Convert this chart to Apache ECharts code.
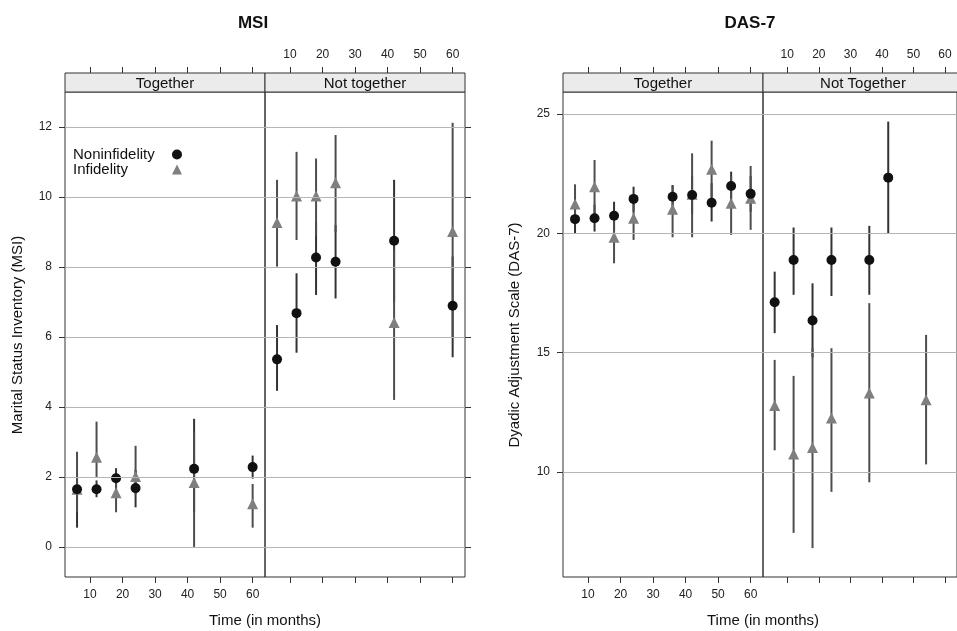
<!DOCTYPE html>
<html>
<head>
<meta charset="utf-8">
<script src="https://cdn.jsdelivr.net/npm/echarts@6/dist/echarts.min.js"></script>
<style>
  html, body { margin: 0; padding: 0; background: #fff; }
  #main { width: 957px; height: 631px; }
</style>
</head>
<body>
<div id="main"></div>
<script>
// Tick values
const monthTicks = [10, 20, 30, 40, 50, 60];
const msiTicks = [0, 2, 4, 6, 8, 10, 12];
const dasTicks = [10, 15, 20, 25];

// MSI - together
const msiTogMonths = [6, 12, 18, 24, 42, 60];
const msiTogNon = [1.65, 1.65, 1.96, 1.68, 2.23, 2.28];
const msiTogNonLo = [0.55, 1.42, 1.6, 1.13, 1.0, 1.95];
const msiTogNonHi = [2.1, 1.9, 2.25, 2.2, 3.66, 2.61];
const msiTogInf = [1.65, 2.56, 1.55, 2.01, 1.84, 1.23];
const msiTogInfLo = [1.0, 2.0, 0.99, 1.5, 0.0, 0.55];
const msiTogInfHi = [2.72, 3.58, 1.9, 2.89, 3.3, 1.8];

// MSI - not together
const msiSepMonths = [6, 12, 18, 24, 42, 60];
const msiSepNon = [5.36, 6.68, 8.27, 8.15, 8.75, 6.89];
const msiSepNonLo = [4.46, 5.55, 7.2, 7.1, 7.0, 5.42];
const msiSepNonHi = [6.34, 7.82, 9.3, 9.2, 10.49, 8.3];
const msiSepInf = [9.27, 10.03, 10.03, 10.41, 6.41, 9.01];
const msiSepInfLo = [8.01, 8.77, 8.9, 9.0, 4.2, 6.0];
const msiSepInfHi = [10.49, 11.29, 11.1, 11.77, 8.5, 12.12];

// DAS-7 - together
const dasTogMonths = [6, 12, 18, 24, 36, 42, 48, 54, 60];
const dasTogNon = [20.59, 20.63, 20.73, 21.44, 21.53, 21.6, 21.28, 21.98, 21.65];
const dasTogNonLo = [20.0, 20.07, 20.1, 20.9, 21.0, 20.8, 20.49, 21.4, 20.9];
const dasTogNonHi = [21.2, 21.2, 21.32, 21.95, 22.02, 22.4, 22.1, 22.58, 22.4];
const dasTogInf = [21.23, 21.95, 19.83, 20.63, 21.0, 21.63, 22.68, 21.26, 21.47];
const dasTogInfLo = [20.4, 20.8, 18.74, 19.72, 19.83, 19.83, 21.5, 19.93, 20.14];
const dasTogInfHi = [22.05, 23.07, 20.9, 21.5, 22.0, 23.35, 23.88, 22.4, 22.82];

// DAS-7 - not together
const dasSepNonMonths = [6, 12, 18, 24, 36, 42];
const dasSepNon = [17.11, 18.88, 16.34, 18.88, 18.88, 22.33];
const dasSepNonLo = [15.81, 17.42, 14.8, 17.37, 17.42, 20.0];
const dasSepNonHi = [18.39, 20.24, 17.9, 20.24, 20.31, 24.68];
const dasSepInfMonths = [6, 12, 18, 24, 36, 54];
const dasSepInf = [12.78, 10.75, 11.02, 12.25, 13.3, 13.02];
const dasSepInfLo = [10.9, 7.44, 6.8, 9.16, 9.56, 10.31];
const dasSepInfHi = [14.69, 14.02, 15.2, 15.18, 17.07, 15.74];

const chart = echarts.init(document.getElementById('main'));

const FONT = '"Liberation Sans", Arial, sans-serif';
const panelTop = 92, panelHeight = 485, panelWidth = 200, stripH = 19;
const panelLefts = [65, 265, 563, 763];
const stripLabels = ['Together', 'Not together', 'Together', 'Not Together'];
const xRange = [2.3, 63.8];
const msiRange = [-0.86, 13.0];
const dasRange = [5.59, 25.92];

const nonColor = '#111';
const infColor = '#7f7f7f';

const grids = panelLefts.map(left => ({
    left: left, top: panelTop, width: panelWidth, height: panelHeight,
    show: true, borderColor: '#333', borderWidth: 1, backgroundColor: 'transparent'
}));

// two x axes per panel: bottom and top (top shifted above the strip)
const xAxes = [];
panelLefts.forEach((left, g) => {
    const together = g % 2 === 0;
    ['bottom', 'top'].forEach(pos => {
        const showLabel = (pos === 'bottom') === together;
        xAxes.push({
            type: 'value', gridIndex: g, position: pos,
            offset: pos === 'top' ? stripH : 0,
            min: xRange[0], max: xRange[1],
            axisLine: { show: false, onZero: false },
            splitLine: { show: false },
            axisTick: { show: true, length: 6, customValues: monthTicks, lineStyle: { color: '#333' } },
            axisLabel: {
                show: showLabel, customValues: monthTicks, margin: 12,
                fontSize: 12, fontFamily: FONT, color: '#222'
            }
        });
    });
});

const yAxes = panelLefts.map((left, g) => {
    const together = g % 2 === 0;
    const range = g < 2 ? msiRange : dasRange;
    const ticks = g < 2 ? msiTicks : dasTicks;
    return {
        type: 'value', gridIndex: g, position: together ? 'left' : 'right',
        min: range[0], max: range[1],
        axisLine: { show: false, onZero: false },
        splitLine: { show: false },
        axisTick: { show: true, length: 6, customValues: ticks, lineStyle: { color: '#333' } },
        axisLabel: {
            show: together, customValues: ticks, margin: 13,
            fontSize: 12, fontFamily: FONT, color: '#222'
        }
    };
});

function barItem(params, api) {
    const lo = api.coord([api.value(0), api.value(1)]);
    const hi = api.coord([api.value(0), api.value(2)]);
    return {
        type: 'line',
        shape: { x1: lo[0], y1: lo[1], x2: hi[0], y2: hi[1] },
        style: { stroke: api.visual('color'), lineWidth: 2 }
    };
}

function groupSeries(g, name, months, vals, lo, hi) {
    const isNon = name === 'Noninfidelity';
    return [
        {
            type: 'custom', name: name + ' CI', xAxisIndex: 2 * g, yAxisIndex: g,
            renderItem: barItem, z: 2, silent: true,
            itemStyle: { color: isNon ? '#333' : '#4d4d4d' },
            data: months.map((m, i) => [m, lo[i], hi[i]])
        },
        {
            type: 'scatter', name: name, xAxisIndex: 2 * g, yAxisIndex: g,
            symbol: isNon ? 'circle' : 'triangle',
            symbolSize: isNon ? 10 : 11,
            z: isNon ? 4 : 3,
            itemStyle: { color: isNon ? nonColor : infColor, opacity: 1 },
            data: months.map((m, i) => [m, vals[i]])
        }
    ];
}

function gridLines(g, ticks) {
    return {
        type: 'line', xAxisIndex: 2 * g, yAxisIndex: g, data: [], z: 1, silent: true,
        markLine: {
            silent: true, symbol: 'none', animation: false,
            label: { show: false },
            lineStyle: { color: '#b5b5b5', width: 1, type: 'solid' },
            emphasis: { disabled: true },
            data: ticks.map(v => ({ yAxis: v }))
        }
    };
}

const series = [
    gridLines(0, msiTicks), gridLines(1, msiTicks), gridLines(2, dasTicks), gridLines(3, dasTicks),
    ...groupSeries(0, 'Noninfidelity', msiTogMonths, msiTogNon, msiTogNonLo, msiTogNonHi),
    ...groupSeries(0, 'Infidelity', msiTogMonths, msiTogInf, msiTogInfLo, msiTogInfHi),
    ...groupSeries(1, 'Noninfidelity', msiSepMonths, msiSepNon, msiSepNonLo, msiSepNonHi),
    ...groupSeries(1, 'Infidelity', msiSepMonths, msiSepInf, msiSepInfLo, msiSepInfHi),
    ...groupSeries(2, 'Noninfidelity', dasTogMonths, dasTogNon, dasTogNonLo, dasTogNonHi),
    ...groupSeries(2, 'Infidelity', dasTogMonths, dasTogInf, dasTogInfLo, dasTogInfHi),
    ...groupSeries(3, 'Noninfidelity', dasSepNonMonths, dasSepNon, dasSepNonLo, dasSepNonHi),
    ...groupSeries(3, 'Infidelity', dasSepInfMonths, dasSepInf, dasSepInfLo, dasSepInfHi)
];

// strips, titles and axis names
const graphics = [];
panelLefts.forEach((left, g) => {
    graphics.push({
        type: 'rect', silent: true, z: 5,
        shape: { x: left, y: panelTop - stripH, width: panelWidth, height: stripH },
        style: { fill: '#ebebeb', stroke: '#333', lineWidth: 1 }
    });
    graphics.push({
        type: 'text', silent: true, z: 6,
        x: left + panelWidth / 2, y: panelTop - stripH / 2 + 1,
        style: { text: stripLabels[g], font: '15px ' + FONT, fill: '#111', align: 'center', verticalAlign: 'middle' }
    });
});
const texts = [
    { text: 'MSI', x: 253, y: 23, font: 'bold 17px ' + FONT },
    { text: 'DAS-7', x: 750, y: 23, font: 'bold 17px ' + FONT },
    { text: 'Time (in months)', x: 265, y: 621, font: '15px ' + FONT },
    { text: 'Time (in months)', x: 763, y: 621, font: '15px ' + FONT },
    { text: 'Marital Status Inventory (MSI)', x: 18, y: 335, font: '15px ' + FONT, rotation: Math.PI / 2 },
    { text: 'Dyadic Adjustment Scale (DAS-7)', x: 515, y: 335, font: '15px ' + FONT, rotation: Math.PI / 2 }
];
texts.forEach(t => {
    graphics.push({
        type: 'text', silent: true, x: t.x, y: t.y, rotation: t.rotation || 0,
        style: { text: t.text, font: t.font, fill: '#111', align: 'center', verticalAlign: 'middle' }
    });
});

const option = {
    animation: false,
    backgroundColor: '#fff',
    grid: grids,
    xAxis: xAxes,
    yAxis: yAxes,
    legend: {
        data: ['Noninfidelity', 'Infidelity'],
        orient: 'vertical', align: 'right',
        left: 68, top: 142,
        itemWidth: 10, itemHeight: 10, itemGap: 0,
        selectedMode: false,
        formatter: name => '{a|' + name + '}',
        textStyle: {
            rich: { a: { fontSize: 15, fontFamily: FONT, color: '#111', width: 94, align: 'left', lineHeight: 14 } }
        }
    },
    series: series,
    graphic: graphics
};
chart.setOption(option);
</script>
</body>
</html>
